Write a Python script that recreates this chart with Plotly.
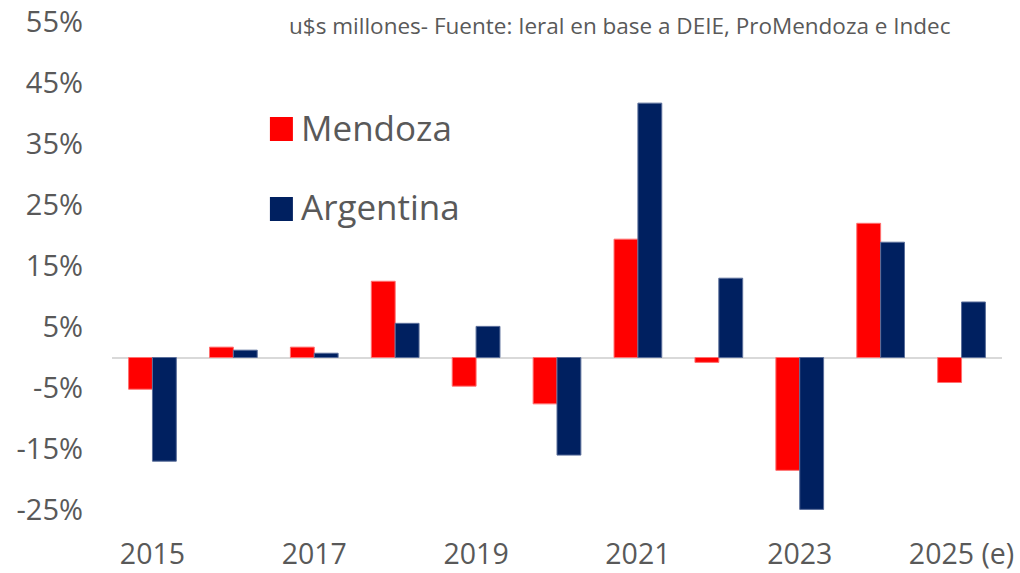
import plotly.graph_objects as go

years = ["2015", "2016", "2017", "2018", "2019", "2020", "2021", "2022", "2023", "2024", "2025 (e)"]
mendoza = [-5.2, 1.7, 1.7, 12.5, -4.7, -7.6, 19.4, -0.8, -18.5, 22.0, -4.1]
argentina = [-17.0, 1.2, 0.7, 5.6, 5.1, -16.0, 41.7, 13.0, -24.9, 18.9, 9.1]
y_ticks = [-25, -15, -5, 5, 15, 25, 35, 45, 55]
y_tick_text = ["-25%", "-15%", "-5%", "5%", "15%", "25%", "35%", "45%", "55%"]
subtitle = "u$s millones- Fuente: Ieral en base a DEIE, ProMendoza e Indec"

RED = "#FF0000"
NAVY = "#002060"
GRAY = "#595959"
FONT = "Open Sans"

# plot area targeted at screen x 112..1002.5, y 22..510 (body margin removed)
fig = go.Figure()
fig.add_trace(go.Bar(x=years, y=mendoza, name="Mendoza",
                     marker=dict(color=RED, line=dict(color="#FF7070", width=1)),
                     showlegend=False))
fig.add_trace(go.Bar(x=years, y=argentina, name="Argentina",
                     marker=dict(color=NAVY, line=dict(color="#5A6E9A", width=1)),
                     showlegend=False))

# custom legend (large swatches)
legend_items = [("Mendoza", RED, 129), ("Argentina", NAVY, 209)]
for name, col, yc in legend_items:
    fig.add_shape(type="rect", xref="paper", yref="paper",
                  x0=(270 - 112) / 890.5, x1=(293 - 112) / 890.5,
                  y0=(510 - (yc + 12)) / 488, y1=(510 - (yc - 12)) / 488,
                  fillcolor=col, line=dict(width=0))
    fig.add_annotation(text=name, xref="paper", yref="paper",
                       x=(299 - 112) / 890.5, y=(510 - yc + 2) / 488,
                       xanchor="left", yanchor="middle", showarrow=False,
                       font=dict(family=FONT, size=35, color=GRAY))

fig.add_annotation(text=subtitle, xref="paper", yref="paper",
                   x=(620 - 112) / 890.5, y=(510 - 25) / 488,
                   xanchor="center", yanchor="middle", showarrow=False,
                   font=dict(family=FONT, size=22.5, color=GRAY))

fig.update_layout(
    width=1020, height=573,
    margin=dict(l=112, r=17.5, t=22, b=63, autoexpand=False),
    paper_bgcolor="white", plot_bgcolor="white",
    barmode="group", bargap=0.41, bargroupgap=0,
    font=dict(family=FONT, color=GRAY),
    xaxis=dict(type="category", tickmode="array", tickvals=years[::2],
               ticktext=years[::2], showgrid=False, showline=False,
               tickfont=dict(family=FONT, size=28.5, color=GRAY),
               ticks="", ticklabelstandoff=24, automargin=False,
               ticklabeloverflow="allow"),
    yaxis=dict(range=[-25, 55], tickmode="array", tickvals=y_ticks,
               ticktext=y_tick_text, showgrid=False, showline=False,
               zeroline=True, zerolinecolor="#D9D9D9", zerolinewidth=2,
               tickfont=dict(family=FONT, size=29, color=GRAY),
               ticks="", ticklabelstandoff=28, automargin=False,
               ticklabeloverflow="allow"),
)

fig.write_html("out.html", config={"displayModeBar": False},
               post_script="document.body.style.margin='0';")
